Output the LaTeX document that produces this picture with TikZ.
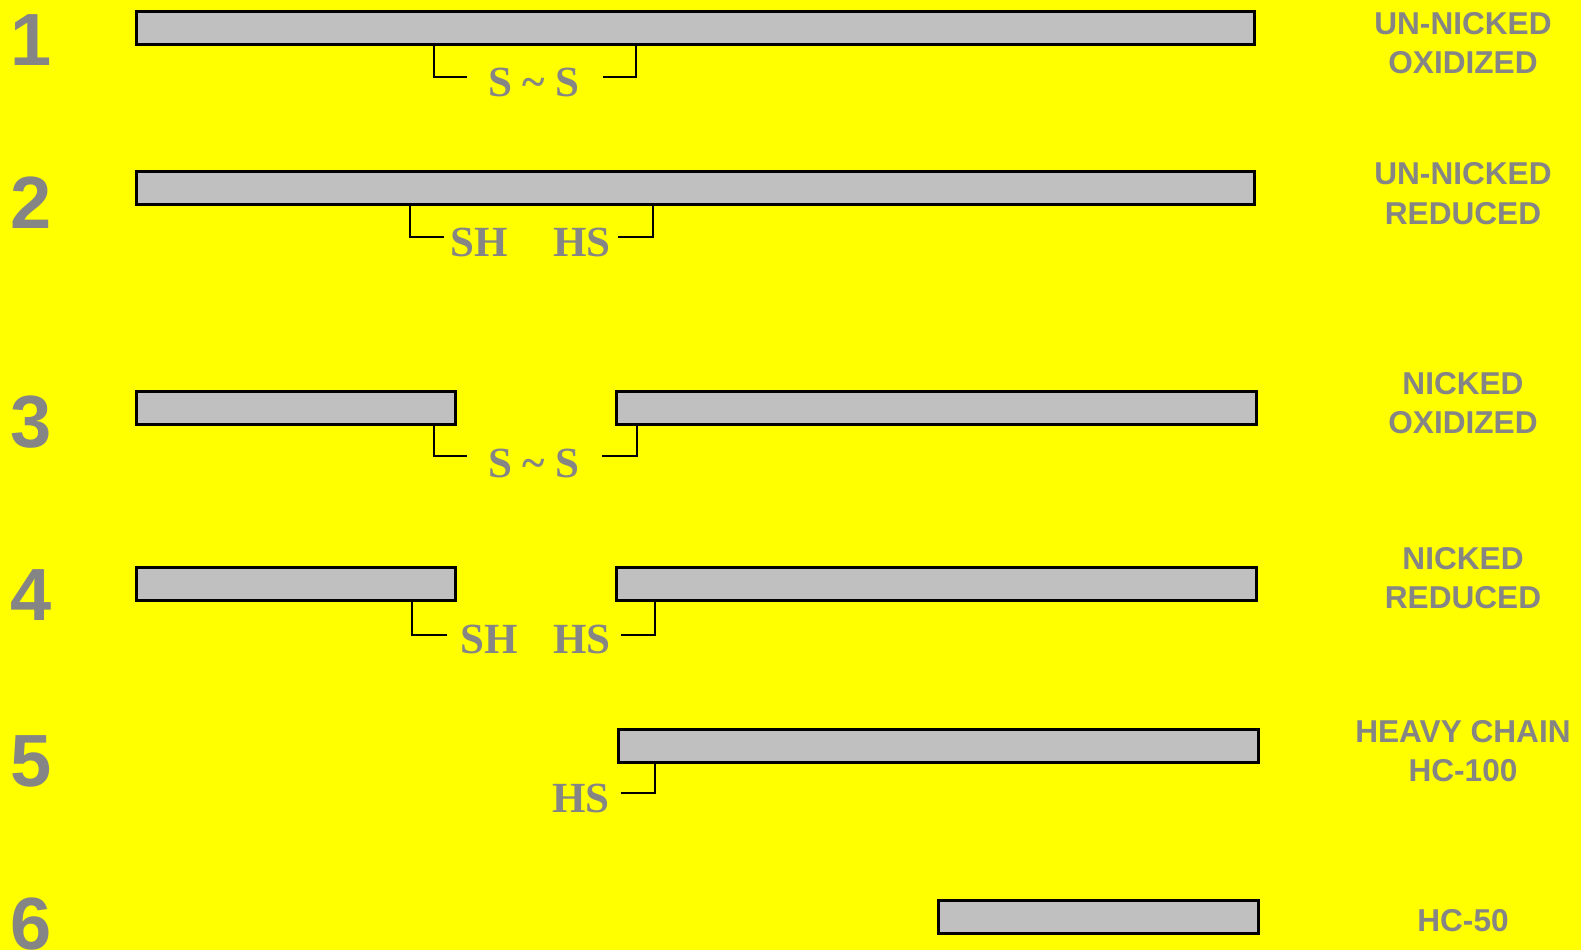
\documentclass[tikz,border=0pt]{standalone}
\usepackage{fontspec}
\setmainfont{Liberation Serif}
\setsansfont{Liberation Sans}
\usetikzlibrary{fit}
\definecolor{canary}{HTML}{FFFF00}
\definecolor{chaingray}{HTML}{C0C0C0}
\definecolor{labelgray}{HTML}{858585}

\begin{document}
\begin{tikzpicture}[x=0.5pt,y=-0.5pt,
  bar/.style={draw=black,line width=1.5pt,fill=chaingray,inner sep=0pt},
  bond/.style={draw=black,line width=1pt},
  num/.style={text=labelgray,font=\sffamily\bfseries\fontsize{37}{37}\selectfont,anchor=base,inner sep=0pt},
  state/.style={text=labelgray,font=\sffamily\bfseries\fontsize{15.8}{19.75}\selectfont,align=center,inner sep=0pt},
  thiol/.style={text=labelgray,font=\bfseries\fontsize{21.5}{21.5}\selectfont,inner sep=0pt}]
\fill[canary] (0,0) rectangle (1581,950);
\useasboundingbox (0,0) rectangle (1581,950);

% row numbers
\foreach \n/\y in {1/65,2/228,3/447,4/620,5/786,6/949}{\node[num] (num\n) at (31,\y) {\n};}

% chains
\node[bar,fit={(136.5,11.5) (1254.5,44.5)}] (bar1) {};
\node[bar,fit={(136.5,171.5) (1254.5,204.5)}] (bar2) {};
\node[bar,fit={(136.5,391.5) (455.5,424.5)}] (bar3a) {};
\node[bar,fit={(616.5,391.5) (1256.5,424.5)}] (bar3b) {};
\node[bar,fit={(136.5,567.5) (455.5,600.5)}] (bar4a) {};
\node[bar,fit={(616.5,567.5) (1256.5,600.5)}] (bar4b) {};
\node[bar,fit={(618.5,729.5) (1258.5,762.5)}] (bar5) {};
\node[bar,fit={(938.5,900) (1258.5,933)}] (bar6) {};

% disulfide / thiol brackets
\coordinate (k1l) at (433.5,77); \coordinate (e1l) at (467,77);
\coordinate (k1r) at (636,77); \coordinate (e1r) at (603,77);
\draw[bond] (bar1.south -| k1l) -- (k1l) -- (e1l);
\draw[bond] (e1r) -- (k1r) -- (bar1.south -| k1r);
\node[thiol] (ss1) at (534,82) {S \textasciitilde{} S};

\coordinate (k2l) at (410,237); \coordinate (e2l) at (444,237);
\coordinate (k2r) at (652.5,237); \coordinate (e2r) at (618,237);
\draw[bond] (bar2.south -| k2l) -- (k2l) -- (e2l);
\draw[bond] (e2r) -- (k2r) -- (bar2.south -| k2r);
\node[thiol] (sh2) at (479.5,242) {SH};
\node[thiol] (hs2) at (582,242) {HS};

\coordinate (k3l) at (433.5,456); \coordinate (e3l) at (467,456);
\coordinate (k3r) at (636.5,456); \coordinate (e3r) at (602,456);
\draw[bond] (bar3a.south -| k3l) -- (k3l) -- (e3l);
\draw[bond] (e3r) -- (k3r) -- (bar3b.south -| k3r);
\node[thiol] (ss3) at (534,463) {S \textasciitilde{} S};

\coordinate (k4l) at (412,635); \coordinate (e4l) at (447,635);
\coordinate (k4r) at (655,635); \coordinate (e4r) at (621,635);
\draw[bond] (bar4a.south -| k4l) -- (k4l) -- (e4l);
\draw[bond] (e4r) -- (k4r) -- (bar4b.south -| k4r);
\node[thiol] (sh4) at (489,639) {SH};
\node[thiol] (hs4) at (582,639) {HS};

\coordinate (k5r) at (655,793); \coordinate (e5r) at (620.5,793);
\draw[bond] (e5r) -- (k5r) -- (bar5.south -| k5r);
\node[thiol] (hs5) at (581,798) {HS};

% states
\node[state] (st1) at (1463,43) {UN-NICKED\\OXIDIZED};
\node[state] (st2) at (1463,193.5) {UN-NICKED\\REDUCED};
\node[state] (st3) at (1463,403) {NICKED\\OXIDIZED};
\node[state] (st4) at (1463,578) {NICKED\\REDUCED};
\node[state] (st5) at (1463,751) {HEAVY CHAIN\\HC-100};
\node[state] (st6) at (1463,921) {HC-50};
\end{tikzpicture}
\end{document}
